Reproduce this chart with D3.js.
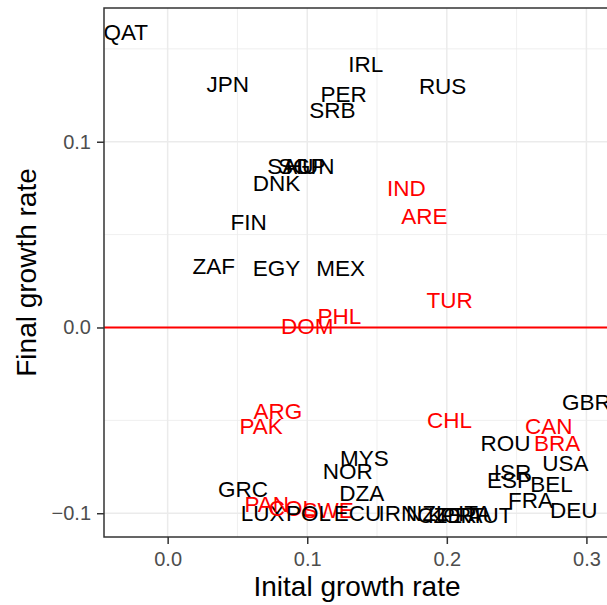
<!DOCTYPE html>
<html>
<head>
<meta charset="utf-8">
<script src="https://cdn.jsdelivr.net/npm/d3@7"></script>
<style>
	body { margin: 0; background: #fff; }
	text { font-family: 'Liberation Sans', Arial, sans-serif; }
</style>
</head>
<body>
<div id="chart"></div>
<script>

// DATA //

const countries = [
	'QAT', 'JPN', 'IRL', 'PER', 'SRB', 'RUS', 'SAU', 'SGP', 'HUN', 'DNK',
	'FIN', 'ZAF', 'EGY', 'MEX', 'IND', 'ARE', 'TUR', 'PHL', 'DOM', 'ARG',
	'PAK', 'CHL', 'MYS', 'NOR', 'DZA', 'GRC', 'LUX', 'PAN', 'COL', 'SWE',
	'POL', 'ECU', 'IRN', 'NZL', 'CZE', 'KOR', 'PRT', 'ITA', 'AUT', 'GBR',
	'CAN', 'BRA', 'ROU', 'USA', 'ISR', 'ESP', 'BEL', 'FRA', 'DEU'
];
const initialRate = [
	-0.030, 0.043, 0.142, 0.126, 0.118, 0.197, 0.088, 0.096, 0.102, 0.078,
	0.058, 0.033, 0.078, 0.124, 0.171, 0.184, 0.202, 0.123, 0.100, 0.079,
	0.067, 0.202, 0.141, 0.129, 0.139, 0.054, 0.068, 0.071, 0.089, 0.115,
	0.101, 0.136, 0.165, 0.186, 0.195, 0.204, 0.211, 0.220, 0.231, 0.300,
	0.273, 0.279, 0.242, 0.285, 0.247, 0.245, 0.275, 0.260, 0.291
];
const finalRate = [
	0.159, 0.131, 0.142, 0.126, 0.117, 0.130, 0.087, 0.087, 0.087, 0.078,
	0.057, 0.033, 0.032, 0.032, 0.075, 0.060, 0.015, 0.006, 0.001, -0.045,
	-0.053, -0.050, -0.070, -0.077, -0.089, -0.087, -0.100, -0.095, -0.097, -0.098,
	-0.100, -0.100, -0.100, -0.100, -0.101, -0.101, -0.101, -0.100, -0.101, -0.040,
	-0.053, -0.062, -0.062, -0.073, -0.078, -0.082, -0.084, -0.093, -0.098
];
// countries drawn in red
const highlighted = [
	'IND', 'ARE', 'TUR', 'PHL', 'DOM', 'ARG', 'PAK', 'CHL', 'PAN', 'COL',
	'SWE', 'CAN', 'BRA'
];
const xTicks = [ 0.0, 0.1, 0.2, 0.3 ];
const yTicks = [ -0.1, 0.0, 0.1 ];
const xMinor = [ 0.05, 0.15, 0.25 ];
const yMinor = [ -0.05, 0.05, 0.15 ];


// VARIABLES //

const width = 607;
const height = 605;
const margin = { top: 8, right: -3, bottom: 68, left: 104 };
const innerW = width - margin.left - margin.right;
const innerH = height - margin.top - margin.bottom;


// MAIN //

const svg = d3.select( '#chart' ).append( 'svg' )
	.attr( 'width', width )
	.attr( 'height', height );

const x = d3.scaleLinear()
	.domain([ -0.0456, 0.3169 ])
	.range([ 0, innerW ]);

const y = d3.scaleLinear()
	.domain([ -0.1128, 0.172 ])
	.range([ innerH, 0 ]);

const g = svg.append( 'g' )
	.attr( 'transform', 'translate(' + margin.left + ',' + margin.top + ')' );

// Minor grid lines.
g.selectAll( '.xminor' ).data( xMinor ).enter().append( 'line' )
	.attr( 'x1', d => x( d ) ).attr( 'x2', d => x( d ) )
	.attr( 'y1', 0 ).attr( 'y2', innerH )
	.style( 'stroke', '#EBEBEB' ).style( 'stroke-width', 0.8 );
g.selectAll( '.yminor' ).data( yMinor ).enter().append( 'line' )
	.attr( 'y1', d => y( d ) ).attr( 'y2', d => y( d ) )
	.attr( 'x1', 0 ).attr( 'x2', innerW )
	.style( 'stroke', '#EBEBEB' ).style( 'stroke-width', 0.8 );

// Major grid lines.
g.selectAll( '.xmajor' ).data( xTicks ).enter().append( 'line' )
	.attr( 'x1', d => x( d ) ).attr( 'x2', d => x( d ) )
	.attr( 'y1', 0 ).attr( 'y2', innerH )
	.style( 'stroke', '#EBEBEB' ).style( 'stroke-width', 1.5 );
g.selectAll( '.ymajor' ).data( yTicks ).enter().append( 'line' )
	.attr( 'y1', d => y( d ) ).attr( 'y2', d => y( d ) )
	.attr( 'x1', 0 ).attr( 'x2', innerW )
	.style( 'stroke', '#EBEBEB' ).style( 'stroke-width', 1.5 );

// Zero line.
g.append( 'line' )
	.attr( 'x1', 0 ).attr( 'x2', innerW )
	.attr( 'y1', y( 0 ) ).attr( 'y2', y( 0 ) )
	.style( 'stroke', '#FF0000' ).style( 'stroke-width', 2 );

// Country labels.
g.selectAll( '.lbl' )
	.data( countries )
	.enter().append( 'text' )
	.attr( 'x', ( d, i ) => x( initialRate[ i ] ) )
	.attr( 'y', ( d, i ) => y( finalRate[ i ] ) )
	.attr( 'dy', '0.36em' )
	.attr( 'text-anchor', 'middle' )
	.style( 'font-size', '22.5px' )
	.style( 'fill', d => highlighted.indexOf( d ) >= 0 ? '#FF0000' : '#000' )
	.text( d => d );

// Panel border.
g.append( 'rect' )
	.attr( 'width', innerW ).attr( 'height', innerH )
	.style( 'fill', 'none' )
	.style( 'stroke', '#333333' ).style( 'stroke-width', 1.5 );

// Axes.
const fmt = d => d3.format( '.1f' )( d ).replace( '-', '\u2212' );

const xAxis = g.append( 'g' )
	.attr( 'transform', 'translate(0,' + innerH + ')' )
	.call( d3.axisBottom( x ).tickValues( xTicks ).tickFormat( fmt ).tickSize( 7 ).tickPadding( 8 ) );
const yAxis = g.append( 'g' )
	.call( d3.axisLeft( y ).tickValues( yTicks ).tickFormat( fmt ).tickSize( 7 ).tickPadding( 6 ) );

[ xAxis, yAxis ].forEach( ax => {
	ax.select( '.domain' ).remove();
	ax.selectAll( '.tick line' ).style( 'stroke', '#333333' ).style( 'stroke-width', 1.5 );
	ax.selectAll( '.tick text' )
		.style( 'font-size', '20px' )
		.style( 'font-family', "'Liberation Sans', Arial, sans-serif" )
		.style( 'fill', '#4D4D4D' );
});

// Axis titles.
svg.append( 'text' )
	.attr( 'x', margin.left + innerW / 2 )
	.attr( 'y', 596 )
	.attr( 'text-anchor', 'middle' )
	.style( 'font-size', '28px' )
	.text( 'Inital growth rate' );

svg.append( 'text' )
	.attr( 'transform', 'translate(36,' + ( margin.top + innerH / 2 ) + ') rotate(-90)' )
	.attr( 'text-anchor', 'middle' )
	.style( 'font-size', '28px' )
	.text( 'Final growth rate' );

</script>
</body>
</html>
